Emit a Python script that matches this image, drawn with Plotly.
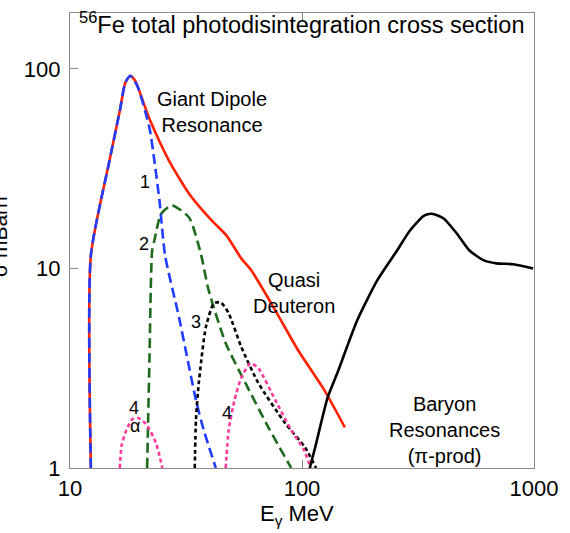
import math
import plotly.graph_objects as go

# Photon energy (MeV) and cross section (mb) for each contribution

# total photoabsorption
total_E = [12.3, 12.3, 14.8, 16.4, 17.3, 18.2, 19.1, 22.0, 26.7, 32.6, 40.8, 47.3, 54.8, 60.5, 76.7, 96.2, 125, 153]
total_sigma = [1.0, 11.6, 34.7, 61.7, 85.1, 92.3, 87.1, 56.2, 34.7, 23.7, 17.4, 14.6, 11.2, 9.77, 6.17, 3.89, 2.45, 1.60]

# 1-nucleon emission (giant dipole resonance)
gdr_E = [12.3, 12.3, 14.8, 16.4, 17.3, 18.2, 19.5, 22.0, 23.1, 24.3, 25.7, 29.5, 34.9, 37.7, 42.5]
gdr_sigma = [1.0, 11.6, 34.7, 61.7, 85.1, 92.3, 82.2, 50.7, 34.7, 21.9, 11.6, 5.69, 2.19, 1.55, 1.0]

# 2-nucleon emission
two_E = [21.5, 22.0, 22.6, 23.1, 24.7, 27.5, 32.6, 36.6, 39.6, 46.9, 57.1, 71.6, 89.8]
two_sigma = [1.0, 3.47, 12.3, 13.8, 18.8, 20.7, 18.0, 11.9, 7.76, 4.22, 2.66, 1.60, 1.0]

# 3-nucleon emission
three_E = [34.5, 34.9, 35.9, 38.5, 41.7, 44.7, 48.3, 54.8, 64.9, 84.5, 103, 115]
three_sigma = [1.0, 1.74, 2.66, 5.07, 6.68, 6.76, 5.96, 4.03, 2.66, 1.68, 1.27, 1.0]

# alpha emission
alpha_E = [16.4, 16.7, 17.5, 18.6, 19.7, 21.3, 23.5, 25.0]
alpha_sigma = [1.0, 1.30, 1.55, 1.76, 1.78, 1.66, 1.33, 1.0]

# 4-nucleon emission
four_E = [46.9, 48.3, 51.2, 54.8, 60.0, 64.9, 76.7, 89.8, 102, 109]
four_sigma = [1.0, 1.55, 2.19, 2.85, 3.35, 3.16, 2.19, 1.55, 1.23, 1.0]

# baryon resonances (pion production)
baryon_E = [108, 114, 129, 142, 173, 211, 257, 292, 336, 363, 408, 464, 527, 605, 688, 813, 991]
baryon_sigma = [1.0, 1.27, 2.26, 2.99, 5.50, 8.71, 12.3, 15.5, 18.4, 18.8, 17.8, 15.0, 12.3, 11.0, 10.6, 10.5, 10.0]

FONT = "Liberation Sans, Arial, Helvetica, sans-serif"

curves = [
    (total_E, total_sigma, "#ff2200", "solid", 2.6),
    (gdr_E, gdr_sigma, "#1f3cff", "10px,5px", 2.6),
    (two_E, two_sigma, "#1e6b1e", "10px,5px", 2.6),
    (three_E, three_sigma, "#000000", "4px,3px", 2.6),
    (alpha_E, alpha_sigma, "#ff3a9a", "4px,3px", 2.6),
    (four_E, four_sigma, "#ff3a9a", "4px,3px", 2.6),
    (baryon_E, baryon_sigma, "#000000", "solid", 2.6),
]

fig = go.Figure()
for xs, ys, color, dash, width in curves:
    fig.add_trace(go.Scatter(
        x=xs, y=ys, mode="lines",
        line=dict(color=color, dash=dash, width=width, shape="spline", smoothing=0.6),
        showlegend=False, hoverinfo="skip",
    ))

L = math.log10


def label(text, E, s, size=20, **kw):
    fig.add_annotation(x=L(E), y=L(s), xref="x", yref="y", text=text,
                       showarrow=False, font=dict(size=size, color="black", family=FONT), **kw)


label("Giant Dipole<br>Resonance", 40.8, 61.0)
label("1", 21.1, 27.2, size=18)
label("2", 20.9, 13.2, size=18)
label("3", 34.9, 5.4, size=18)
label("4", 18.8, 2.0, size=18)
label("α", 19.1, 1.62, size=18)
label("4", 47.3, 1.88, size=18)
label("Quasi<br>Deuteron", 92.5, 7.5)
label("Baryon<br>Resonances<br>(π-prod)", 412, 1.55)

# title inside the frame
fig.add_annotation(x=0.016, y=0.978, xref="paper", yref="paper", xanchor="left", yanchor="middle",
                   text="<sup>56</sup>Fe total photodisintegration cross section", showarrow=False,
                   font=dict(size=23.5, color="black", family=FONT))

# axis titles
fig.add_annotation(x=-0.152, y=0.509, xref="paper", yref="paper", xanchor="center", yanchor="middle",
                   text="σ mBarn", textangle=-90, showarrow=False,
                   font=dict(size=21, color="black", family=FONT))
fig.add_annotation(x=0.49, y=-0.103, xref="paper", yref="paper", xanchor="center", yanchor="middle",
                   text="E<sub>γ</sub> MeV", showarrow=False,
                   font=dict(size=22, color="black", family=FONT))

axis_common = dict(
    showgrid=False, zeroline=False, showline=True, linecolor="#8a8a8a", linewidth=1.2,
    ticks="inside", ticklen=8, tickcolor="#8a8a8a", tickwidth=1.2,
    tickfont=dict(size=22, color="black", family=FONT),
)

fig.update_xaxes(type="log", range=[1, 3], tickvals=[10, 100, 1000], ticktext=["10", "100", "1000"],
                 mirror="ticks", **axis_common)
fig.update_yaxes(type="log", range=[0, 2.28], tickvals=[1, 10, 100], ticktext=["1", "10", "100"],
                 mirror=True, ticklabelstandoff=4, **axis_common)

fig.update_layout(
    width=570, height=533,
    margin=dict(l=70, r=32, t=12, b=65),
    paper_bgcolor="white", plot_bgcolor="white",
    font=dict(family=FONT),
)

fig.write_html("out.html")
